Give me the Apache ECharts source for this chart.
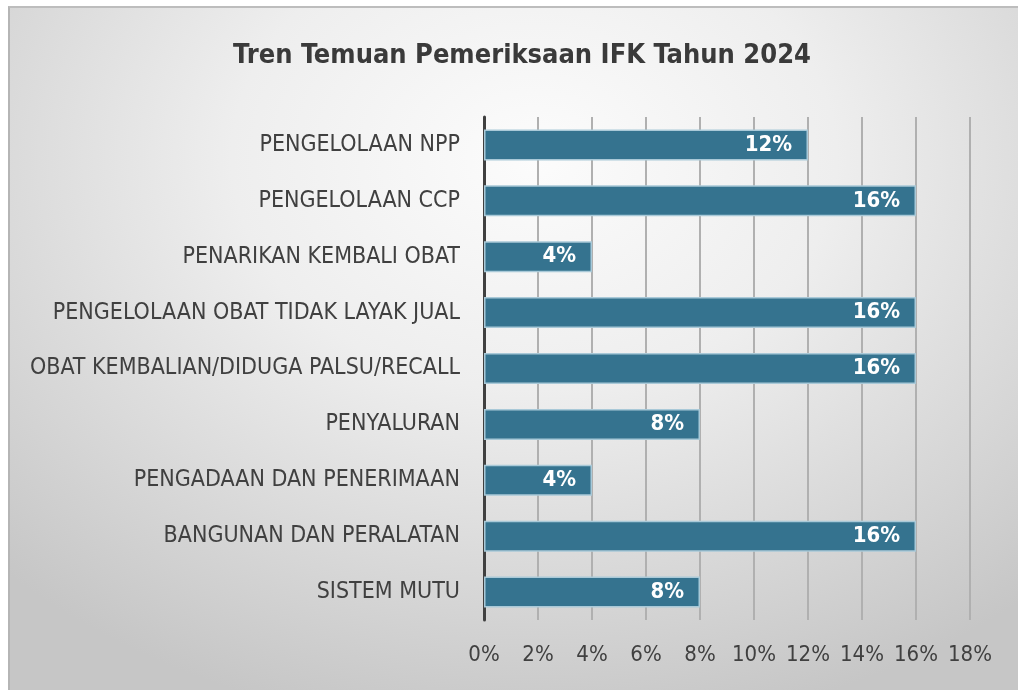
<!DOCTYPE html>
<html><head><meta charset="utf-8">
<script src="https://cdn.jsdelivr.net/npm/echarts@6/dist/echarts.min.js"></script>
<style>
html,body{margin:0;padding:0;background:#fff;}
#bg{position:absolute;left:8px;top:6px;width:1010px;height:684px;box-sizing:border-box;border-top:2px solid #bdbdbd;border-left:2px solid #b5b5b5;
background:radial-gradient(ellipse 75% 85% at 52% 22%, #fcfcfc 0%, #eeeeee 40%, #c6c6c6 100%);}
#c{position:absolute;left:0;top:0;width:1018px;height:690px;}
</style></head><body>
<div id="bg"></div><div id="c"></div>
<script>
const titleText = 'Tren Temuan Pemeriksaan IFK Tahun 2024';
const categories = ['PENGELOLAAN NPP','PENGELOLAAN CCP','PENARIKAN KEMBALI OBAT','PENGELOLAAN OBAT TIDAK LAYAK JUAL','OBAT KEMBALIAN/DIDUGA PALSU/RECALL','PENYALURAN','PENGADAAN DAN PENERIMAAN','BANGUNAN DAN PERALATAN','SISTEM MUTU'];
const values = [12,16,4,16,16,8,4,16,8];
const axisMin = 0, axisMax = 18, axisStep = 2;

const chart = echarts.init(document.getElementById('c'));
const narrow = '"DejaVu Sans Condensed","Liberation Sans Narrow",sans-serif';
chart.setOption({
  backgroundColor: 'transparent',
  title: {text: titleText, left: 517, textAlign: 'center', top: 37,
    textStyle: {fontFamily: narrow, fontWeight: 'bold', fontSize: 27, color: '#3a3a3a'}},
  grid: {left: 484, right: 48, top: 117, bottom: 70, containLabel: false},
  xAxis: {type: 'value', min: axisMin, max: axisMax, interval: axisStep,
    axisLine: {show: false}, axisTick: {show: false},
    splitLine: {show: true, lineStyle: {color: '#b0b0b0', width: 2}},
    axisLabel: {formatter: '{value}%', fontFamily: narrow, fontSize: 22, color: '#404040', margin: 24}},
  yAxis: {type: 'category', data: categories, inverse: true,
    axisLine: {show: true, lineStyle: {color: '#404040', width: 3}},
    axisTick: {show: false},
    axisLabel: {fontFamily: narrow, fontSize: 23, color: '#404040', margin: 24}},
  series: [{type: 'bar', data: values, barWidth: 31,
    itemStyle: {color: '#35738f', borderColor: '#a9c9d8', borderWidth: 1.5},
    label: {show: true, position: 'insideRight', distance: 16, formatter: '{c}%',
      fontFamily: narrow, fontWeight: 'bold', fontSize: 22, color: '#fff'}}]
});
</script></body></html>
